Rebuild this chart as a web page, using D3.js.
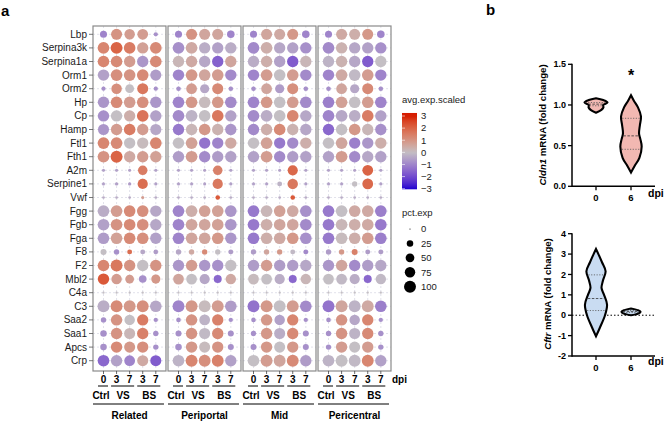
<!DOCTYPE html>
<html lang="en">
<head>
<meta charset="UTF-8">
<title>Dot plot and violins</title>
<script src="https://d3js.org/d3.v7.min.js"></script>
<style>
  body { margin: 0; background: #fff; }
  text { font-family: "Liberation Sans", Arial, sans-serif; }
</style>
</head>
<body>
<div id="chart"></div>
<script>
// ---------- panel a data ----------
var genes = ["Lbp","Serpina3k","Serpina1a","Orm1","Orm2","Hp","Cp","Hamp","Ftl1","Fth1","A2m","Serpine1","Vwf",
             "Fgg","Fgb","Fga","F8","F2","Mbl2","C4a","C3","Saa2","Saa1","Apcs","Crp"];
var panels = ["Related","Periportal","Mid","Pericentral"];
var conds = ["Ctrl_0","VS_3","VS_7","BS_3","BS_7"];
var dpiLabels = ["0","3","7","3","7"];
var groupLabels = [{name: "Ctrl", cols: [0]}, {name: "VS", cols: [1, 2]}, {name: "BS", cols: [3, 4]}];
var colorTicks = [3, 2, 1, 0, -1, -2, -3];
var sizeTicks = [0, 25, 50, 75, 100];

// avg.exp.scaled, one row per gene, columns = conds
var relatedAvg = [
  [-1.0, 1.0, 0.8, 0.8, -0.8], [1.3, 2.0, 1.5, 0.7, 1.2], [1.3, 1.2, 0.8, -0.7, 1.2], [-0.5, 1.1, 1.0, 1.2, -0.6],
  [-0.8, 1.1, 0.0, 1.6, -0.8], [-0.7, 1.2, 0.8, 1.1, -0.7], [-0.8, 0.0, 0.4, 1.7, -0.5], [-0.7, 0.8, 1.5, 0.8, -0.4],
  [1.3, 1.2, 0.0, 0.1, 1.3], [1.0, 2.0, 0.5, 0.8, 0.7], [-0.5, -0.5, -0.5, 1.5, -0.5], [-0.5, -0.5, -0.6, 1.8, -0.5],
  [-0.3, -0.3, -0.3, 0.8, -0.3], [-0.3, 0.8, 1.2, 1.1, -0.4], [-0.5, 1.0, 1.2, 1.1, -0.4], [-0.6, 0.7, 1.2, 1.1, -0.5],
  [0.0, -0.8, 1.8, -0.4, -0.6], [1.3, 1.6, 1.0, 0.0, 1.0], [2.2, 0.8, 0.8, -0.8, 0.9], [0, 0, 0, 0, 0],
  [-0.3, 1.2, 0.9, 1.1, -0.4], [-0.8, 1.0, 0.0, 1.5, -0.8], [-0.8, 1.0, 0.2, 1.4, -0.8], [-0.8, 1.2, 0.9, 1.1, -0.8],
  [-1.5, -0.5, -1.0, 0.5, -1.7]
];
var periportalAvg = [
  [-1.0, 1.0, 0.6, 0.6, -1.0], [-0.8, 0.5, -0.3, -0.5, -0.3], [0.2, 0.5, -0.4, -1.6, 0.6], [-1.0, 0.9, 0.6, 0.8, -0.9],
  [-0.8, 0.8, -0.4, 1.2, -0.8], [-1.0, 0.9, 0.1, 0.9, -0.9], [-0.9, -0.2, 0.0, 1.6, -0.5], [-1.2, 0.2, 0.9, 0.3, -0.7],
  [0.0, 0.7, -1.3, -1.0, 0.5], [-0.6, 0.8, -0.9, -0.6, -0.5], [-0.5, -0.5, -0.5, 1.4, -0.5], [-0.5, -0.5, -0.5, 1.6, -0.5],
  [-0.3, -0.3, -0.3, 2.2, -0.3], [-1.0, 0.4, 0.7, 0.7, -0.7], [-1.0, 0.6, 0.6, 0.7, -0.7], [-1.0, 0.6, 0.6, 0.9, -0.7],
  [-0.4, 0.5, 1.2, 0.0, -0.6], [-0.7, 0.8, -0.7, -0.8, 0.0], [0.6, 0.0, -0.4, -1.5, 0.5], [0, 0, 0, 0, 0],
  [-1.0, 0.9, 0.1, 0.8, -0.6], [-0.8, 1.0, -0.2, 1.4, -0.8], [-0.8, 1.0, -0.1, 1.2, -0.8], [-0.8, 0.9, 0.1, 1.0, -0.8],
  [-0.2, 1.3, 1.1, 1.4, -0.5]
];
var midAvg = [
  [-1.0, 0.6, 0.5, 0.9, -1.0], [-0.9, 0.4, -0.4, -0.5, -0.8], [-0.3, 0.4, -0.5, -1.7, 0.2], [-1.0, 0.8, 0.0, 0.8, -0.9],
  [-0.8, 0.6, -0.6, 1.1, -0.8], [-1.0, 0.9, 0.0, 0.8, -0.9], [-0.9, -0.3, 0.0, 1.3, -0.4], [-0.9, 0.4, 1.2, 0.3, -0.4],
  [0.0, 0.7, -1.2, -0.9, 0.4], [-0.5, 0.8, -0.9, -0.6, -0.5], [-0.5, -0.5, -0.5, 1.9, -0.5], [-0.5, -0.5, -0.2, 1.6, -0.5],
  [-0.3, -0.3, -0.3, 2.2, -0.3], [-1.2, 0.2, 0.7, 0.5, -0.8], [-1.2, 0.4, 0.6, 0.6, -0.9], [-1.2, 0.4, 0.5, 0.9, -0.8],
  [-0.6, 0.6, 0.9, -0.1, -0.9], [-0.6, 0.8, -0.6, -0.6, -0.4], [0.1, 0.0, -0.3, -1.5, 0.2], [0, 0, 0, 0, 0],
  [-1.3, 0.9, 0.0, 0.8, -0.9], [-0.8, 0.9, -0.5, 1.3, -0.8], [-0.8, 0.9, -0.3, 1.2, -0.8], [-0.8, 0.9, 0.0, 0.9, -0.8],
  [0.0, 0.8, 0.6, 1.2, -0.6]
];
var pericentralAvg = [
  [-1.0, 0.5, 0.4, 0.9, -1.0], [-0.9, 0.3, -0.4, -0.5, -0.8], [-0.2, 0.3, -0.4, -1.7, 0.0], [-1.0, 0.5, -0.1, 0.8, -1.0],
  [-0.8, 0.6, -0.4, 1.2, -0.8], [-1.1, 0.7, 0.0, 0.8, -1.0], [-1.0, -0.4, -0.3, 1.5, -0.5], [-1.5, 0.0, 0.9, 0.2, -0.8],
  [0.0, 0.6, -1.1, -0.7, 0.4], [-0.5, 0.8, -0.9, -0.4, -0.5], [-0.5, -0.5, -0.5, 2.0, -0.5], [-0.5, -0.5, 0.0, 1.9, -0.5],
  [-0.3, -0.3, -0.3, -0.3, -0.3], [-1.2, 0.0, 0.5, 0.5, -1.1], [-1.2, 0.2, 0.4, 0.5, -1.2], [-1.2, 0.1, 0.4, 0.8, -1.1],
  [-0.6, 0.9, 1.4, -0.6, -0.6], [-0.7, 0.6, -0.9, -0.6, -0.4], [0.0, -0.1, -0.3, -1.5, -0.1], [0, 0, 0, 0, 0],
  [-1.3, 0.6, -0.2, 0.5, -1.1], [-0.8, 1.0, -0.4, 1.3, -0.8], [-0.8, 1.0, -0.2, 1.2, -0.8], [-0.8, 0.8, 0.0, 0.8, -0.8],
  [-0.2, 0.0, -0.1, 1.3, -0.5]
];

// pct.exp, one row per gene
var relatedPct = [
  [30, 85, 75, 80, 8], [95, 100, 95, 90, 95], [95, 95, 90, 90, 95], [90, 95, 95, 95, 85],
  [8, 75, 50, 85, 8], [90, 95, 95, 95, 90], [90, 90, 90, 95, 90], [85, 90, 95, 90, 85],
  [95, 95, 90, 90, 95], [95, 100, 90, 90, 90], [3, 3, 3, 60, 3], [3, 4, 4, 70, 3],
  [2, 2, 2, 3, 2], [95, 95, 95, 95, 90], [95, 95, 95, 95, 90], [95, 95, 95, 95, 90],
  [20, 15, 12, 12, 10], [95, 100, 90, 90, 90], [90, 75, 50, 35, 55], [1, 1, 1, 1, 1],
  [100, 100, 100, 100, 95], [15, 90, 75, 90, 8], [25, 90, 85, 90, 15], [25, 90, 85, 90, 15],
  [95, 90, 80, 85, 85]
];
var periportalPct = [
  [30, 85, 85, 85, 35], [95, 95, 90, 90, 90], [90, 90, 90, 90, 90], [90, 95, 95, 95, 90],
  [10, 80, 55, 85, 10], [95, 95, 95, 95, 95], [95, 95, 95, 95, 90], [90, 90, 95, 90, 90],
  [90, 95, 90, 90, 90], [90, 95, 90, 90, 90], [3, 3, 3, 60, 3], [3, 3, 3, 70, 3],
  [2, 2, 2, 10, 2], [95, 95, 95, 95, 95], [95, 95, 95, 95, 95], [95, 95, 95, 95, 90],
  [15, 15, 15, 15, 12], [90, 90, 90, 90, 90], [80, 80, 70, 40, 75], [1, 1, 1, 1, 1],
  [100, 100, 100, 100, 95], [10, 90, 80, 90, 8], [20, 90, 85, 90, 20], [25, 90, 85, 90, 20],
  [95, 100, 100, 100, 90]
];
var midPct = [
  [30, 85, 85, 85, 35], [95, 95, 90, 90, 90], [90, 90, 90, 90, 90], [90, 95, 95, 95, 90],
  [10, 80, 55, 85, 10], [95, 95, 95, 95, 95], [95, 95, 95, 95, 90], [90, 90, 95, 90, 90],
  [90, 95, 90, 90, 90], [90, 95, 90, 90, 90], [3, 3, 3, 70, 3], [3, 3, 12, 75, 3],
  [2, 2, 2, 10, 2], [95, 95, 95, 95, 95], [95, 95, 95, 95, 95], [95, 95, 95, 95, 95],
  [15, 15, 15, 12, 12], [90, 90, 90, 90, 90], [80, 80, 70, 40, 75], [1, 1, 1, 1, 1],
  [100, 100, 100, 100, 95], [10, 90, 75, 90, 8], [15, 90, 85, 90, 20], [20, 90, 85, 90, 20],
  [95, 100, 100, 100, 90]
];
var pericentralPct = [
  [30, 85, 85, 85, 35], [95, 90, 90, 90, 90], [90, 90, 90, 90, 90], [90, 95, 95, 95, 90],
  [10, 80, 55, 85, 10], [95, 95, 95, 95, 95], [95, 95, 95, 95, 90], [90, 90, 95, 90, 90],
  [90, 95, 90, 90, 90], [90, 95, 90, 90, 90], [3, 3, 3, 80, 3], [3, 3, 15, 80, 3],
  [2, 2, 2, 2, 2], [95, 95, 95, 95, 95], [95, 95, 95, 95, 95], [95, 95, 95, 95, 95],
  [15, 15, 20, 12, 12], [90, 90, 90, 90, 90], [80, 80, 70, 40, 75], [1, 1, 1, 1, 1],
  [100, 100, 100, 100, 95], [10, 90, 75, 90, 8], [15, 90, 85, 90, 15], [15, 90, 85, 90, 15],
  [95, 100, 100, 100, 90]
];

// ---------- panel b data (violin outlines) ----------
var dpiGroups = ["0", "6"];
var cldn1D0Val = [0.905, 0.94, 0.97, 1.0, 1.03, 1.06, 1.082];
var cldn1D0Dens = [0, 0.45, 0.62, 0.6, 0.96, 0.6, 0];
var cldn1D0Quart = [0.99, 1.01, 1.03];
var cldn1D6Val = [0.17, 0.25, 0.35, 0.49, 0.58, 0.65, 0.75, 0.86, 0.97, 1.05, 1.12];
var cldn1D6Dens = [0, 0.3, 0.7, 0.89, 0.78, 0.67, 0.74, 0.83, 0.58, 0.25, 0];
var cldn1D6Quart = [0.455, 0.62, 0.836];
var cftrD0Val = [-1.03, -0.6, 0.0, 0.52, 1.0, 1.34, 1.7, 2.16, 2.6, 3.0, 3.25];
var cftrD0Dens = [0, 0.33, 0.75, 0.92, 0.67, 0.46, 0.58, 0.8, 0.5, 0.2, 0];
var cftrD0Quart = [0.23, 0.82, 1.98];
var cftrD6Val = [0.0, 0.08, 0.17, 0.25, 0.33];
var cftrD6Dens = [0, 0.6, 0.8, 0.55, 0];
var cftrD6Quart = [0.13, 0.18, 0.23];

var W = 664, H = 422;
var svg = d3.select("#chart").append("svg")
    .attr("width", W).attr("height", H);

// ---------- panel a ----------
var avgTables = [relatedAvg, periportalAvg, midAvg, pericentralAvg];
var pctTables = [relatedPct, periportalPct, midPct, pericentralPct];

var panelX = d3.scaleBand().domain(panels).range([93, 391]).paddingInner(0.027);
var colX = d3.scalePoint().domain(conds).range([10.5, 62.8]);
var rowY = d3.scalePoint().domain(genes).range([34.3, 360.7]);
var panelTop = 26, panelBottom = 371;

var color = d3.scaleLinear().domain([-3, 0, 3])
    .range(["#1c00d0", "#c4bfc4", "#d61c00"])
    .interpolate(d3.interpolateLab)
    .clamp(true);
var radius = d3.scaleSqrt().domain([0, 100]).range([0.6, 5.95]);

var dots = [];
panels.forEach(function (p, pi) {
  genes.forEach(function (g, gi) {
    conds.forEach(function (c, ci) {
      dots.push({panel: p, gene: g, cond: c, avg: avgTables[pi][gi][ci], pct: pctTables[pi][gi][ci]});
    });
  });
});

svg.append("text").attr("x", 1).attr("y", 16)
    .style("font-size", "15px").style("font-weight", "bold").text("a");

var panelG = svg.selectAll(".panel").data(panels).enter().append("g")
    .attr("class", "panel")
    .attr("transform", function (d) { return "translate(" + panelX(d) + ",0)"; });

// dashed crosshair grid
panelG.each(function () {
  var g = d3.select(this);
  g.selectAll(".hgrid").data(genes).enter().append("line")
      .attr("x1", 0).attr("x2", panelX.bandwidth())
      .attr("y1", function (d) { return rowY(d); }).attr("y2", function (d) { return rowY(d); })
      .attr("stroke", "#cfcfdd").attr("stroke-width", 0.6).attr("stroke-dasharray", "2,2");
  g.selectAll(".vgrid").data(conds).enter().append("line")
      .attr("x1", function (d) { return colX(d); }).attr("x2", function (d) { return colX(d); })
      .attr("y1", panelTop).attr("y2", panelBottom)
      .attr("stroke", "#cfcfdd").attr("stroke-width", 0.6).attr("stroke-dasharray", "2,2");
});

// dots
panelG.selectAll("circle")
    .data(function (p) { return dots.filter(function (d) { return d.panel === p; }); })
    .enter().append("circle")
    .attr("cx", function (d) { return colX(d.cond); })
    .attr("cy", function (d) { return rowY(d.gene); })
    .attr("r", function (d) { return radius(d.pct); })
    .attr("fill", function (d) { return color(d.avg); });

// panel border
panelG.append("rect")
    .attr("x", 0).attr("y", panelTop)
    .attr("width", panelX.bandwidth()).attr("height", panelBottom - panelTop)
    .attr("fill", "none").attr("stroke", "#8a8a8a").attr("stroke-width", 1.2);

// bottom ticks
panelG.selectAll(".xtick").data(conds).enter().append("line")
    .attr("x1", function (d) { return colX(d); }).attr("x2", function (d) { return colX(d); })
    .attr("y1", panelBottom).attr("y2", panelBottom + 3)
    .attr("stroke", "#444").attr("stroke-width", 0.8);

// dpi numbers
panelG.selectAll(".dpi").data(dpiLabels).enter().append("text")
    .attr("x", function (d, i) { return colX(conds[i]); })
    .attr("y", 382.5)
    .attr("text-anchor", "middle")
    .style("font-size", "10px").style("font-weight", "bold")
    .text(function (d) { return d; });

// group underlines and names
panelG.each(function () {
  var g = d3.select(this);
  groupLabels.forEach(function (grp) {
    var xs = grp.cols.map(function (i) { return colX(conds[i]); });
    var x0 = d3.min(xs) - 5, x1 = d3.max(xs) + 5;
    g.append("line").attr("x1", x0 - 0.5).attr("x2", x1 - 0.5)
        .attr("y1", 386).attr("y2", 386).attr("stroke", "#000").attr("stroke-width", 1);
    g.append("text").attr("x", (x0 + x1) / 2 - (grp.name === "Ctrl" ? 2.5 : 0)).attr("y", 398.5)
        .attr("text-anchor", "middle")
        .style("font-size", "10px").style("font-weight", "bold")
        .text(grp.name);
  });
  g.append("line").attr("x1", 0).attr("x2", panelX.bandwidth() - 2)
      .attr("y1", 404).attr("y2", 404).attr("stroke", "#000").attr("stroke-width", 1);
});

panelG.append("text")
    .attr("x", panelX.bandwidth() / 2).attr("y", 419)
    .attr("text-anchor", "middle")
    .style("font-size", "10px").style("font-weight", "bold")
    .text(function (d) { return d; });

svg.append("text").attr("x", 392).attr("y", 382.5)
    .style("font-size", "10px").style("font-weight", "bold").text("dpi");

// gene labels with ticks
svg.selectAll(".gene").data(genes).enter().append("text")
    .attr("x", 87).attr("y", function (d) { return rowY(d); })
    .attr("dy", "0.35em").attr("text-anchor", "end")
    .style("font-size", "10px").style("fill", "#1a1a1a")
    .text(function (d) { return d; });
svg.selectAll(".ytick").data(genes).enter().append("line")
    .attr("x1", 89).attr("x2", 93)
    .attr("y1", function (d) { return rowY(d); }).attr("y2", function (d) { return rowY(d); })
    .attr("stroke", "#555").attr("stroke-width", 0.8);

// colour legend
svg.append("text").attr("x", 402).attr("y", 103)
    .style("font-size", "9.5px").style("fill", "#222").text("avg.exp.scaled");
var cy = d3.scaleLinear().domain([-3, 3]).range([188.7, 116]);
var defs = svg.append("defs");
var grad = defs.append("linearGradient").attr("id", "cbar")
    .attr("x1", 0).attr("x2", 0).attr("y1", 1).attr("y2", 0);
d3.range(-3.05, 3.26, 0.25).forEach(function (v) {
  grad.append("stop")
      .attr("offset", (v + 3.05) / 6.3)
      .attr("stop-color", color(v));
});
svg.append("rect").attr("x", 402).attr("y", cy(3.25))
    .attr("width", 15).attr("height", cy(-3.05) - cy(3.25))
    .attr("fill", "url(#cbar)");
svg.selectAll(".cbtick").data(colorTicks).enter().append("line")
    .attr("x1", 402).attr("x2", 405)
    .attr("y1", function (d) { return cy(d); }).attr("y2", function (d) { return cy(d); })
    .attr("stroke", "#fff").attr("stroke-width", 0.6);
svg.selectAll(".cblab").data(colorTicks).enter().append("text")
    .attr("x", 421).attr("y", function (d) { return cy(d); })
    .attr("dy", "0.35em")
    .style("font-size", "9.5px").style("fill", "#222")
    .text(function (d) { return d < 0 ? "\u2212" + Math.abs(d) : String(d); });

// size legend
svg.append("text").attr("x", 402).attr("y", 216)
    .style("font-size", "9.5px").style("fill", "#222").text("pct.exp");
var sy = d3.scalePoint().domain(sizeTicks).range([229, 286.7]);
svg.selectAll(".szdot").data(sizeTicks).enter().append("circle")
    .attr("cx", 410).attr("cy", function (d) { return sy(d); })
    .attr("r", function (d) { return radius(d); })
    .attr("fill", "#000");
svg.selectAll(".szlab").data(sizeTicks).enter().append("text")
    .attr("x", 421).attr("y", function (d) { return sy(d); })
    .attr("dy", "0.35em")
    .style("font-size", "9.5px").style("fill", "#222")
    .text(function (d) { return d; });

// ---------- panel b ----------
svg.append("text").attr("x", 486).attr("y", 15)
    .style("font-size", "15px").style("font-weight", "bold").text("b");

var bx = d3.scalePoint().domain(dpiGroups).range([596, 631]);
var halfW = d3.scaleLinear().domain([0, 1]).range([0, 12]);

function drawViolinPlot(opt) {
  var y = d3.scaleLinear().domain(opt.domain).range(opt.range);
  var g = svg.append("g");

  // y axis
  g.append("line").attr("x1", 572).attr("x2", 572)
      .attr("y1", y(opt.domain[1]) - 0.5).attr("y2", y(opt.domain[0]) + 0.75)
      .attr("stroke", "#000").attr("stroke-width", 1.5);
  g.selectAll(".yt").data(opt.ticks).enter().append("line")
      .attr("x1", 568).attr("x2", 572)
      .attr("y1", function (d) { return y(d); }).attr("y2", function (d) { return y(d); })
      .attr("stroke", "#000").attr("stroke-width", 1.3);
  g.selectAll(".yl").data(opt.ticks).enter().append("text")
      .attr("x", 566).attr("y", function (d) { return y(d); })
      .attr("dy", "0.35em").attr("text-anchor", "end")
      .style("font-size", "9px").style("font-weight", "bold")
      .text(opt.fmt);

  // x axis at the bottom of the y range
  var yb = y(opt.domain[0]);
  g.append("line").attr("x1", 572).attr("x2", 655).attr("y1", yb).attr("y2", yb)
      .attr("stroke", "#000").attr("stroke-width", 1.5);
  g.selectAll(".xt").data(dpiGroups).enter().append("line")
      .attr("x1", function (d) { return bx(d); }).attr("x2", function (d) { return bx(d); })
      .attr("y1", yb).attr("y2", yb + 4)
      .attr("stroke", "#000").attr("stroke-width", 1.3);
  g.selectAll(".xl").data(dpiGroups).enter().append("text")
      .attr("x", function (d) { return bx(d); }).attr("y", yb + 15)
      .attr("text-anchor", "middle")
      .style("font-size", "9.5px").style("font-weight", "bold")
      .text(function (d) { return d; });
  g.append("text").attr("x", 648).attr("y", yb + opt.dpiDy)
      .style("font-size", "10.5px").style("font-weight", "bold").text("dpi");

  if (opt.zeroLine) {
    g.append("line").attr("x1", 572).attr("x2", 655).attr("y1", y(0)).attr("y2", y(0))
        .attr("stroke", "#000").attr("stroke-width", 1).attr("stroke-dasharray", "1.5,2");
  }

  // y label
  var lab = g.append("text")
      .attr("transform", "translate(" + opt.labelX + "," + opt.labelY + ") rotate(-90)")
      .attr("text-anchor", "middle")
      .style("font-size", "9.6px").style("font-weight", "bold");
  lab.append("tspan").style("font-style", "italic").text(opt.gene);
  lab.append("tspan").text(" mRNA (fold change)");

  // violins
  opt.violins.forEach(function (v) {
    var pts = v.val.map(function (d, i) { return {v: d, w: v.dens[i]}; });
    var cx = bx(v.group);
    var area = d3.area()
        .y(function (d) { return y(d.v); })
        .x0(function (d) { return cx - halfW(d.w); })
        .x1(function (d) { return cx + halfW(d.w); })
        .curve(d3.curveCatmullRom.alpha(0.5));
    g.append("path").datum(pts)
        .attr("d", area)
        .attr("fill", opt.fill)
        .attr("stroke", "#000").attr("stroke-width", 2.1);
    var wAt = d3.scaleLinear().domain(v.val).range(v.dens);
    v.quart.forEach(function (q, qi) {
      var w = halfW(wAt(q)) - 1;
      g.append("line").attr("x1", cx - w).attr("x2", cx + w)
          .attr("y1", y(q)).attr("y2", y(q))
          .attr("stroke", qi === 1 ? "#333" : "#555")
          .attr("stroke-width", 0.8)
          .attr("stroke-dasharray", qi === 1 ? "2.5,1.5" : "1.2,1.5");
    });
  });

  if (opt.star) {
    g.append("text").attr("x", bx("6")).attr("y", opt.star)
        .attr("text-anchor", "middle")
        .style("font-size", "16px").style("font-weight", "bold").text("*");
  }
}

drawViolinPlot({
  gene: "Cldn1", domain: [0, 1.5], range: [186.3, 64.3], ticks: [0, 0.5, 1.0, 1.5],
  fmt: d3.format(".1f"), labelX: 546, labelY: 125, fill: "#f2b8b2", dpiDy: 11, star: 81,
  violins: [
    {group: "0", val: cldn1D0Val, dens: cldn1D0Dens, quart: cldn1D0Quart},
    {group: "6", val: cldn1D6Val, dens: cldn1D6Dens, quart: cldn1D6Quart}
  ]
});

drawViolinPlot({
  gene: "Cftr", domain: [-2, 4], range: [356, 233.7], ticks: [-2, -1, 0, 1, 2, 3, 4],
  fmt: function (d) { return String(d); }, labelX: 551, labelY: 294, fill: "#c9dcf2", dpiDy: 9,
  zeroLine: true,
  violins: [
    {group: "0", val: cftrD0Val, dens: cftrD0Dens, quart: cftrD0Quart},
    {group: "6", val: cftrD6Val, dens: cftrD6Dens, quart: cftrD6Quart}
  ]
});
</script>
</body>
</html>
